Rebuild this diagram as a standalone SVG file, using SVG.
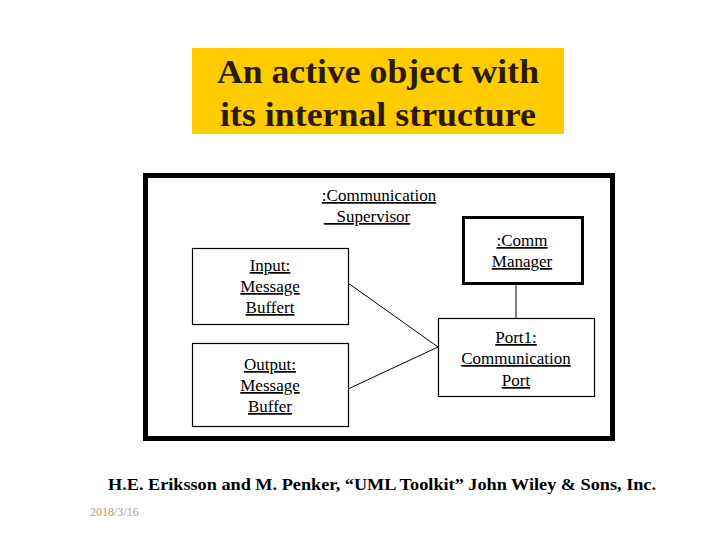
<svg xmlns="http://www.w3.org/2000/svg" width="720" height="540" viewBox="0 0 720 540">
<style>
.t{font-family:'Liberation Serif',Tinos,'Noto Serif','DejaVu Serif',FreeSerif,'Times New Roman',Times,serif;font-size:17px;fill:#000;text-anchor:middle;text-decoration:underline}
.box{fill:#fff;stroke:#000;stroke-width:1.2}
.title{font-family:'Liberation Serif',Tinos,'Noto Serif','DejaVu Serif',FreeSerif,'Times New Roman',Times,serif;font-size:33px;font-weight:bold;fill:#2b1a00;text-anchor:middle}
.conn{stroke:#000;stroke-width:1;fill:none}
.foot{font-family:'Liberation Serif',Tinos,'Noto Serif','DejaVu Serif',FreeSerif,'Times New Roman',Times,serif;font-size:16px;font-weight:bold;fill:#000}
.date{font-family:'Liberation Serif',Tinos,'Noto Serif','DejaVu Serif',FreeSerif,'Times New Roman',Times,serif;font-size:12px;fill:#b09c78}
</style>
<rect width="720" height="540" fill="#fff"/>
<g id="title">
<rect x="192" y="48" width="372" height="86" fill="#ffcc00"/>
<text class="title" x="378" y="83" textLength="322" lengthAdjust="spacingAndGlyphs">An active object with</text>
<text class="title" x="378" y="126" textLength="316" lengthAdjust="spacingAndGlyphs">its internal structure</text>
</g>
<g id="supervisor">
<rect x="145.5" y="175.5" width="467" height="263" fill="#fff" stroke="#000" stroke-width="5"/>
<text class="t" x="379" y="201">:Communication</text>
<text class="t" x="367" y="222">&#160;&#160;&#160;Supervisor</text>
</g>
<g id="connectors">
<line class="conn" x1="348" y1="283" x2="438" y2="347"/>
<line class="conn" x1="348" y1="389" x2="438" y2="347"/>
<line class="conn" x1="516" y1="284" x2="516" y2="318"/>
</g>
<g id="commManager">
<rect x="463.5" y="217.5" width="119" height="66" fill="#fff" stroke="#000" stroke-width="3"/>
<text class="t" x="522" y="246">:Comm</text>
<text class="t" x="522" y="267">Manager</text>
</g>
<g id="port1">
<rect class="box" x="438.5" y="318.5" width="156" height="78"/>
<text class="t" x="516" y="343">Port1:</text>
<text class="t" x="516" y="364">Communication</text>
<text class="t" x="516" y="386">Port</text>
</g>
<g id="input">
<rect class="box" x="192.5" y="248.5" width="156" height="76"/>
<text class="t" x="270" y="271">Input:</text>
<text class="t" x="270" y="292">Message</text>
<text class="t" x="270" y="313">Buffert</text>
</g>
<g id="output">
<rect class="box" x="192.5" y="343.5" width="156" height="83"/>
<text class="t" x="270" y="370">Output:</text>
<text class="t" x="270" y="391">Message</text>
<text class="t" x="270" y="412">Buffer</text>
</g>
<text class="foot" x="108" y="490" textLength="548" lengthAdjust="spacingAndGlyphs">H.E. Eriksson and M. Penker, “UML Toolkit” John Wiley &amp; Sons, Inc.</text>
<text class="date" x="90" y="516">2018/3/16</text>
</svg>
